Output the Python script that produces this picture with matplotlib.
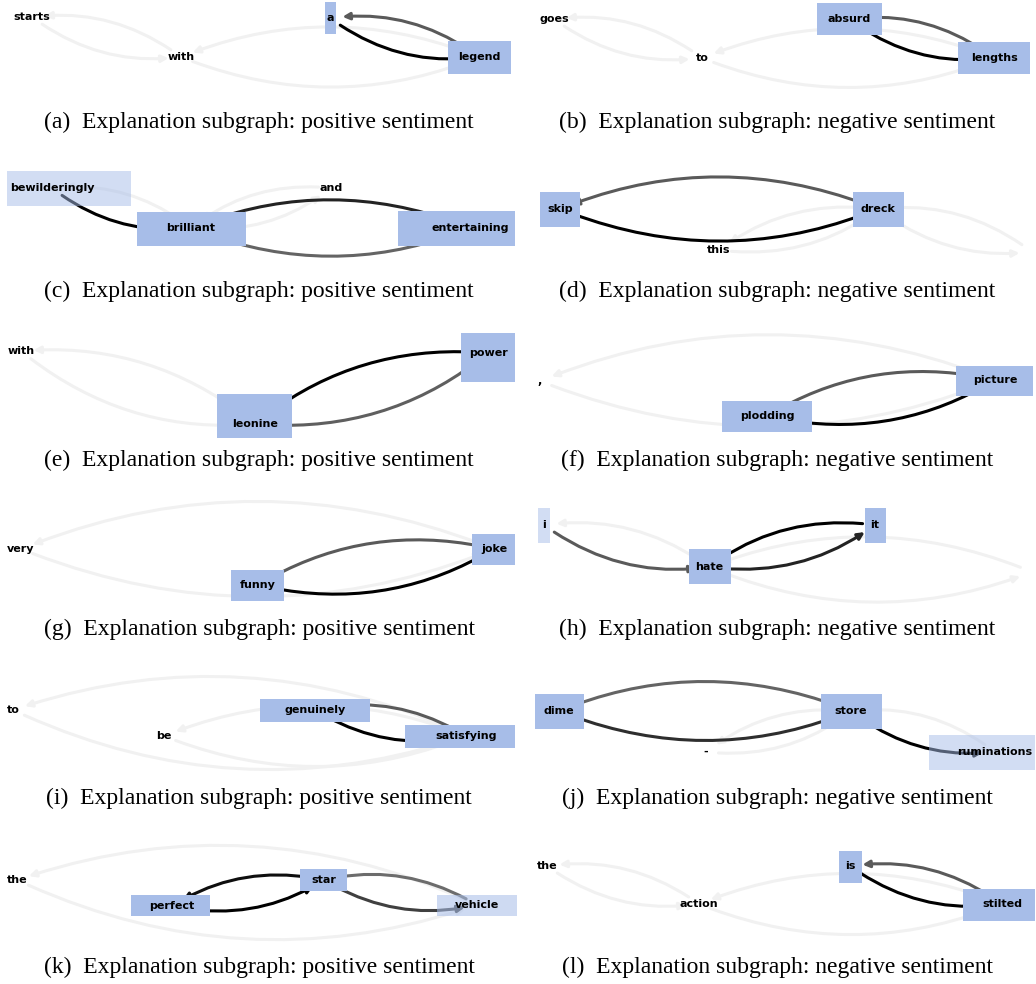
import matplotlib
matplotlib.use("Agg")
import matplotlib.pyplot as plt
from matplotlib.patches import FancyArrowPatch, Rectangle

W, H = 1036, 984
ROW_H, COL_W = 169, 518

letters = list("abcdefghijkl")
sentiments = ["positive", "negative"] * 6

# ---- data: words, node importance (box shade), edges (src, dst, weight) ----
words_a = ["starts", "with", "a", "legend"]
imp_a = [0, 0, 1.0, 1.0]
edges_a = [("starts", "with", 0.12), ("with", "starts", 0.12), ("with", "legend", 0.12),
           ("legend", "with", 0.12), ("a", "legend", 1.0), ("legend", "a", 0.72)]

words_b = ["goes", "to", "absurd", "lengths"]
imp_b = [0, 0, 1.0, 1.0]
edges_b = [("goes", "to", 0.12), ("to", "goes", 0.12), ("to", "lengths", 0.12),
           ("lengths", "to", 0.12), ("absurd", "lengths", 1.0), ("lengths", "absurd", 0.72)]

words_c = ["bewilderingly", "brilliant", "and", "entertaining"]
imp_c = [0.5, 1.0, 0, 1.0]
edges_c = [("bewilderingly", "brilliant", 1.0), ("brilliant", "bewilderingly", 0.12),
           ("brilliant", "and", 0.12), ("and", "brilliant", 0.12),
           ("entertaining", "brilliant", 0.88), ("brilliant", "entertaining", 0.68)]

words_d = ["skip", "this", "dreck", ""]
imp_d = [1.0, 0, 1.0, 0]
edges_d = [("skip", "dreck", 1.0), ("dreck", "skip", 0.72), ("this", "dreck", 0.12),
           ("dreck", "this", 0.12), ("dreck", "", 0.12), ("", "dreck", 0.12)]

words_e = ["with", "leonine", "power"]
imp_e = [0, 1.0, 1.0]
edges_e = [("with", "leonine", 0.12), ("leonine", "with", 0.12),
           ("power", "leonine", 1.0), ("leonine", "power", 0.7)]

words_f = [",", "plodding", "picture"]
imp_f = [0, 1.0, 1.0]
edges_f = [(",", "picture", 0.12), ("picture", ",", 0.12),
           ("picture", "plodding", 0.72), ("plodding", "picture", 1.0)]

words_g = ["very", "funny", "joke"]
imp_g = [0, 1.0, 1.0]
edges_g = [("very", "joke", 0.12), ("joke", "very", 0.12),
           ("joke", "funny", 0.72), ("funny", "joke", 1.0)]

words_h = ["i", "hate", "it", ""]
imp_h = [0.5, 1.0, 1.0, 0]
edges_h = [("i", "hate", 0.72), ("hate", "i", 0.12), ("it", "hate", 1.0),
           ("hate", "it", 0.88), ("hate", "", 0.12), ("", "hate", 0.12)]

words_i = ["to", "be", "genuinely", "satisfying"]
imp_i = [0, 0, 1.0, 1.0]
edges_i = [("to", "satisfying", 0.12), ("satisfying", "to", 0.12),
           ("be", "satisfying", 0.12), ("satisfying", "be", 0.12),
           ("satisfying", "genuinely", 0.72), ("genuinely", "satisfying", 1.0)]

words_j = ["dime", "-", "store", "ruminations"]
imp_j = [1.0, 0, 1.0, 0.5]
edges_j = [("store", "dime", 0.68), ("dime", "store", 0.85), ("-", "store", 0.12),
           ("store", "-", 0.12), ("store", "ruminations", 1.0), ("ruminations", "store", 0.12)]

words_k = ["the", "perfect", "star", "vehicle"]
imp_k = [0, 1.0, 1.0, 0.55]
edges_k = [("the", "vehicle", 0.12), ("vehicle", "the", 0.12),
           ("star", "perfect", 0.95), ("perfect", "star", 1.0),
           ("vehicle", "star", 0.65), ("star", "vehicle", 0.8)]

words_l = ["the", "action", "is", "stilted"]
imp_l = [0, 0, 1.0, 1.0]
edges_l = [("the", "action", 0.12), ("action", "the", 0.12), ("action", "stilted", 0.12),
           ("stilted", "action", 0.12), ("is", "stilted", 1.0), ("stilted", "is", 0.72)]

# ---- layout: node positions and label boxes (panel pixel units) ----
pos_a = [(32, 17), (181, 57), (330, 18), (479, 57)]
box_a = {"a": (325, 2, 11, 32), "legend": (448, 41, 63, 33)}
pos_b = [(36, 19), (184, 58), (331, 19), (476, 58)]
box_b = {"absurd": (299, 3, 65, 32), "lengths": (440, 42, 72, 32)}
pos_c = [(52, 19), (191, 59), (331, 19), (470, 59)]
box_c = {"bewilderingly": (7, 2, 124, 35), "brilliant": (137, 43, 109, 34),
         "entertaining": (398, 42, 117, 35)}
pos_d = [(42, 40), (201, 81), (360, 40), (514, 83)]
box_d = {"skip": (22, 23, 40, 35), "dreck": (335, 23, 51, 35)}
pos_e = [(21, 13), (255, 86), (488, 15)]
box_e = {"leonine": (217, 56, 75, 44), "power": (461, -5, 54, 49)}
pos_f = [(22, 43), (249, 78), (477, 42)]
box_f = {"plodding": (204, 63, 90, 31), "picture": (438, 28, 77, 30)}
pos_g = [(21, 42), (258, 78), (494, 42)]
box_g = {"funny": (231, 63, 53, 31), "joke": (472, 27, 43, 31)}
pos_h = [(26, 18), (191, 60), (357, 18), (514, 65)]
box_h = {"i": (20, 1, 12, 35), "hate": (171, 42, 42, 35), "it": (347, 1, 21, 35)}
pos_i = [(13, 34), (164, 60), (315, 34), (466, 60)]
box_i = {"genuinely": (260, 23, 110, 23), "satisfying": (405, 49, 110, 23)}
pos_j = [(41, 35), (188, 76), (333, 35), (477, 76)]
box_j = {"dime": (17, 18, 49, 35), "store": (303, 18, 61, 35),
         "ruminations": (411, 59, 106, 35)}
pos_k = [(17, 35), (172, 61), (324, 35), (477, 60)]
box_k = {"perfect": (131, 50, 79, 21), "star": (300, 24, 47, 22), "vehicle": (437, 50, 80, 21)}
pos_l = [(29, 21), (181, 59), (332, 21), (484, 59)]
box_l = {"is": (321, 6, 23, 32), "stilted": (445, 44, 72, 32)}

panels = [
    (words_a, imp_a, edges_a, pos_a, box_a), (words_b, imp_b, edges_b, pos_b, box_b),
    (words_c, imp_c, edges_c, pos_c, box_c), (words_d, imp_d, edges_d, pos_d, box_d),
    (words_e, imp_e, edges_e, pos_e, box_e), (words_f, imp_f, edges_f, pos_f, box_f),
    (words_g, imp_g, edges_g, pos_g, box_g), (words_h, imp_h, edges_h, pos_h, box_h),
    (words_i, imp_i, edges_i, pos_i, box_i), (words_j, imp_j, edges_j, pos_j, box_j),
    (words_k, imp_k, edges_k, pos_k, box_k), (words_l, imp_l, edges_l, pos_l, box_l),
]

BOX_BLUE = "#a7bde8"
edge_cmap = plt.get_cmap("Greys")


def draw_panel(ax, words, importance, edges, pos, boxes):
    xy = dict(zip(words, pos))
    # light edges first so dark ones sit on top
    for src, dst, w in sorted(edges, key=lambda e: e[2]):
        arr = FancyArrowPatch(xy[src], xy[dst], connectionstyle="arc3,rad=0.2",
                              arrowstyle="-|>", mutation_scale=10, lw=2.2,
                              color=edge_cmap(w), shrinkA=9, shrinkB=9,
                              zorder=1 + w, clip_on=False)
        ax.add_patch(arr)
    for word, imp in zip(words, importance):
        if imp > 0:
            x0, y0, bw, bh = boxes[word]
            ax.add_patch(Rectangle((x0, y0), bw, bh, facecolor=BOX_BLUE, alpha=imp,
                                   lw=0, zorder=3, clip_on=False))
        x, y = xy[word]
        ax.text(x, y, word, ha="center", va="center", fontsize=8,
                fontweight="bold", color="black", zorder=4)


fig = plt.figure(figsize=(W / 100, H / 100), dpi=100)

for k, (words, imp, edges, pos, boxes) in enumerate(panels):
    r, c = divmod(k, 2)
    ax = fig.add_axes([c * COL_W / W, 1 - (ROW_H * r + 115) / H, COL_W / W, 125 / H])
    ax.set_xlim(0, COL_W)
    ax.set_ylim(115, -10)
    ax.axis("off")
    draw_panel(ax, words, imp, edges, pos, boxes)
    fig.text((c * COL_W + COL_W / 2) / W, 1 - (122 + ROW_H * r) / H,
             f"({letters[k]})  Explanation subgraph: {sentiments[k]} sentiment",
             ha="center", va="center", fontsize=17, family="Liberation Serif")

fig.savefig("out.png", dpi=100)
